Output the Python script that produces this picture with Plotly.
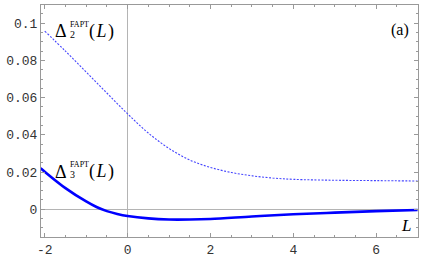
import plotly.graph_objects as go

# Data
L2 = [-2.0, -1.5, -1.0, -0.5, 0.0, 0.5, 1.0, 1.5, 2.0, 2.5, 3.0, 3.5, 4.0, 5.0, 6.0, 7.0]
delta2 = [0.0958, 0.0850, 0.0738, 0.0625, 0.0513, 0.0410, 0.0327, 0.0265, 0.0225, 0.0198,
          0.0180, 0.0168, 0.0161, 0.0156, 0.0154, 0.0152]

L3 = [-2.1, -2.0, -1.5, -1.0, -0.75, -0.5, -0.25, 0.0, 0.5, 1.0, 1.5, 2.0, 3.0, 4.0, 5.0, 6.0, 7.0]
delta3 = [0.0221, 0.0202, 0.0114, 0.0042, 0.0012, -0.0010, -0.0025, -0.0036, -0.0049, -0.0055,
          -0.0055, -0.0052, -0.0039, -0.0027, -0.0018, -0.0010, -0.0004]

x_ticks = [-2, 0, 2, 4, 6]
x_ticklabels = ["-2", "0", "2", "4", "6"]
y_ticks = [0, 0.02, 0.04, 0.06, 0.08, 0.1]
y_ticklabels = ["0", "0.02", "0.04", "0.06", "0.08", "0.1"]

fig = go.Figure()
fig.add_trace(go.Scatter(x=L2, y=delta2, mode="lines", line_shape="spline",
                         line=dict(color="rgb(70,70,255)", width=1.1, dash="2px,1.5px"),
                         showlegend=False, hoverinfo="skip"))
fig.add_trace(go.Scatter(x=L3, y=delta3, mode="lines", line_shape="spline",
                         line=dict(color="#0000ff", width=2.6), showlegend=False, hoverinfo="skip"))

serif = "Liberation Serif"
tickfont = dict(family="Liberation Mono", size=13, color="#333333")

def label(y_main, sub):
    fig.add_annotation(x=-1.60, y=y_main, xref="x", yref="y", text="Δ", showarrow=False,
                       font=dict(family=serif, size=18, color="black"), xanchor="center", yanchor="middle")
    fig.add_annotation(x=-1.45, y=y_main + 0.0037, xref="x", yref="y", text="FAPT", showarrow=False,
                       font=dict(family=serif, size=8, color="black"), xanchor="left", yanchor="middle")
    fig.add_annotation(x=-1.45, y=y_main - 0.0016, xref="x", yref="y", text=sub, showarrow=False,
                       font=dict(family=serif, size=10, color="black"), xanchor="left", yanchor="middle")
    fig.add_annotation(x=-0.97, y=y_main, xref="x", yref="y", text="(\u200a<i>L</i>\u200a)", showarrow=False,
                       font=dict(family=serif, size=18, color="black"), xanchor="left", yanchor="middle")

label(0.0956, "2")
label(0.0203, "3")

fig.add_annotation(x=0.981, y=0.894, xref="paper", yref="paper", text="(a)", showarrow=False,
                   font=dict(family=serif, size=16, color="black"), xanchor="right", yanchor="middle")
fig.add_annotation(x=0.988, y=0.051, xref="paper", yref="paper", text="<i>L</i>", showarrow=False,
                   font=dict(family=serif, size=17, color="black"), xanchor="right", yanchor="middle")

axcol = "#999999"
fig.update_xaxes(range=[-2.09, 7.01], tickvals=x_ticks, ticktext=x_ticklabels,
                 showgrid=False, zeroline=True, zerolinecolor="#b4b4b4", zerolinewidth=1.5,
                 showline=True, linecolor=axcol, linewidth=1, mirror="ticks",
                 ticks="inside", ticklen=4, tickcolor=axcol, tickwidth=1, tickfont=tickfont,
                 minor=dict(dtick=0.5, ticks="inside", ticklen=2, tickcolor=axcol, showgrid=False))
fig.update_yaxes(range=[-0.0149, 0.1098], tickvals=y_ticks, ticktext=y_ticklabels,
                 showgrid=False, zeroline=True, zerolinecolor="#b4b4b4", zerolinewidth=1.5,
                 showline=True, linecolor=axcol, linewidth=1, mirror="ticks",
                 ticks="inside", ticklen=4, tickcolor=axcol, tickwidth=1, tickfont=tickfont,
                 minor=dict(dtick=0.005, tick0=0, ticks="inside", ticklen=2, tickcolor=axcol, showgrid=False))

fig.update_layout(width=423, height=262, margin=dict(l=41, r=4, t=5, b=22),
                  paper_bgcolor="white", plot_bgcolor="white", hovermode=False)

fig.write_html("out.html", config={"displayModeBar": False, "staticPlot": True},
               post_script="document.body.style.margin='0';")
